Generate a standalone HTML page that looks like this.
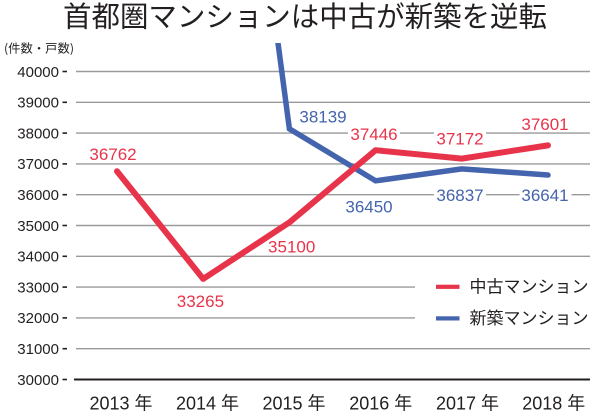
<!DOCTYPE html>
<html>
<head>
<meta charset="utf-8">
<style>
  html, body { margin: 0; padding: 0; background: #fff; }
  body { width: 600px; height: 420px; overflow: hidden; }
  svg { display: block; }
  .t { font-family: "Liberation Sans", "Noto Sans CJK JP", sans-serif; }
  .j { font-family: "Noto Sans CJK JP", "Liberation Sans", sans-serif; }
</style>
</head>
<body>
<svg width="600" height="420" viewBox="0 0 600 420" xmlns="http://www.w3.org/2000/svg">
  <rect width="600" height="420" fill="#fff"/>

  <!-- Title -->
  <text class="j" x="63" y="26.5" font-size="28.5" fill="#231f20" textLength="484" lengthAdjust="spacingAndGlyphs">首都圏マンションは中古が新築を逆転</text>

  <!-- Unit -->
  <text class="j" x="4" y="52.5" font-size="12" fill="#231f20" textLength="70" lengthAdjust="spacingAndGlyphs">(件数・戸数)</text>

  <!-- Gridlines -->
  <g stroke="#9a9a9a" stroke-width="1.4">
    <line x1="76" y1="71.5" x2="590" y2="71.5"/>
    <line x1="76" y1="102.3" x2="590" y2="102.3"/>
    <line x1="76" y1="133.1" x2="590" y2="133.1"/>
    <line x1="76" y1="163.9" x2="590" y2="163.9"/>
    <line x1="76" y1="194.7" x2="590" y2="194.7"/>
    <line x1="76" y1="225.5" x2="590" y2="225.5"/>
    <line x1="76" y1="256.3" x2="590" y2="256.3"/>
    <line x1="76" y1="287.1" x2="415" y2="287.1"/>
    <line x1="76" y1="317.9" x2="415" y2="317.9"/>
    <line x1="76" y1="348.7" x2="590" y2="348.7"/>
  </g>
  <line x1="74" y1="379.5" x2="590" y2="379.5" stroke="#231f20" stroke-width="2"/>

  <!-- Y-axis labels -->
  <g class="t" font-size="15" fill="#231f20" text-anchor="end">
    <text x="59" y="76.8">40000</text>
    <text x="59" y="107.6">39000</text>
    <text x="59" y="138.4">38000</text>
    <text x="59" y="169.2">37000</text>
    <text x="59" y="200">36000</text>
    <text x="59" y="230.8">35000</text>
    <text x="59" y="261.6">34000</text>
    <text x="59" y="292.4">33000</text>
    <text x="59" y="323.2">32000</text>
    <text x="59" y="354">31000</text>
    <text x="59" y="384.8">30000</text>
  </g>
  <g stroke="#231f20" stroke-width="1.6">
    <line x1="62.5" y1="71.5" x2="67" y2="71.5"/>
    <line x1="62.5" y1="102.3" x2="67" y2="102.3"/>
    <line x1="62.5" y1="133.1" x2="67" y2="133.1"/>
    <line x1="62.5" y1="163.9" x2="67" y2="163.9"/>
    <line x1="62.5" y1="194.7" x2="67" y2="194.7"/>
    <line x1="62.5" y1="225.5" x2="67" y2="225.5"/>
    <line x1="62.5" y1="256.3" x2="67" y2="256.3"/>
    <line x1="62.5" y1="287.1" x2="67" y2="287.1"/>
    <line x1="62.5" y1="317.9" x2="67" y2="317.9"/>
    <line x1="62.5" y1="348.7" x2="67" y2="348.7"/>
    <line x1="62.5" y1="379.5" x2="67" y2="379.5"/>
  </g>

  <!-- X-axis labels -->
  <g class="t" font-size="18" fill="#231f20" text-anchor="middle">
    <text x="121" y="409.5">2013 年</text>
    <text x="207.5" y="409.5">2014 年</text>
    <text x="294" y="409.5">2015 年</text>
    <text x="380.8" y="409.5">2016 年</text>
    <text x="467.5" y="409.5">2017 年</text>
    <text x="553.8" y="409.5">2018 年</text>
  </g>

  <!-- Blue series (新築) -->
  <polyline points="278,43 289.4,128.8 375.6,180.8 461.8,168.9 548,175"
    fill="none" stroke="#4464ad" stroke-width="5.5" stroke-linejoin="miter" stroke-linecap="round"/>
  <rect x="274" y="38" width="10" height="5" fill="#fff"/>

  <!-- Red series (中古) -->
  <polyline points="117,171.2 203.2,278.9 289.4,222.4 375.6,150.2 461.8,158.6 548,145.4"
    fill="none" stroke="#e8344b" stroke-width="6" stroke-linejoin="round" stroke-linecap="round"/>

  <!-- Label backgrounds (cut gridlines) -->
  <g fill="#fff">
    <rect x="348" y="128" width="52" height="11"/>
    <rect x="434" y="128" width="52" height="11"/>
    <rect x="434" y="189" width="52" height="11"/>
    <rect x="519.5" y="189" width="52" height="11"/>
  </g>

  <!-- Red data labels -->
  <g class="t" font-size="17" fill="#e8344b" text-anchor="middle">
    <text x="113" y="160">36762</text>
    <text x="200.4" y="307">33265</text>
    <text x="291.7" y="252.7">35100</text>
    <text x="374" y="140">37446</text>
    <text x="460" y="144.3">37172</text>
    <text x="545" y="130">37601</text>
  </g>

  <!-- Blue data labels -->
  <g class="t" font-size="17" fill="#4464ad" text-anchor="middle">
    <text x="323" y="122.7">38139</text>
    <text x="369" y="212.7">36450</text>
    <text x="460" y="201">36837</text>
    <text x="545" y="201">36641</text>
  </g>

  <!-- Legend -->
  <rect x="436" y="284.7" width="23.5" height="4.2" fill="#e8344b"/>
  <rect x="436" y="316.3" width="23.5" height="4.2" fill="#4464ad"/>
  <text class="j" x="469.5" y="292.5" font-size="17" fill="#231f20" textLength="119" lengthAdjust="spacingAndGlyphs">中古マンション</text>
  <text class="j" x="469.5" y="324" font-size="17" fill="#231f20" textLength="119" lengthAdjust="spacingAndGlyphs">新築マンション</text>
</svg>
</body>
</html>
